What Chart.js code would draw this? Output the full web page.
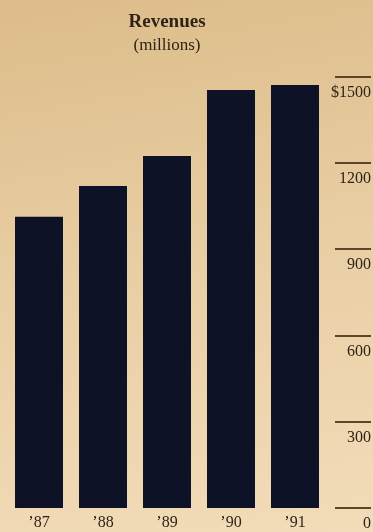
<!DOCTYPE html>
<html>
<head>
  <title>Revenues</title>
  <script src="https://cdn.jsdelivr.net/npm/chart.js"></script>
  <style>
    html, body {
      margin: 0;
      padding: 0;
    }
    body {
      width: 373px;
      height: 532px;
      background: linear-gradient(170deg, #dcbc89 0%, #e8cda2 45%, #f2dcb9 100%);
      overflow: hidden;
    }
    #wrap {
      position: relative;
      width: 373px;
      height: 532px;
    }
  </style>
</head>
<body>
  <div id="wrap">
    <canvas id="revChart"></canvas>
  </div>

  <script>
    // Dados
    const years = ['\u201987', '\u201988', '\u201989', '\u201990', '\u201991'];
    const revenues = [1014, 1121, 1225, 1455, 1472];
    const tickValues = [0, 300, 600, 900, 1200, 1500];
    const tickLabels = ['0', '300', '600', '900', '1200', '$1500'];

    const INK = '#2f2317';
    const RULE = '#5e4529';

    // Escala da direita: traço acima, número embaixo
    const rightTicks = {
      id: 'rightTicks',
      afterDraw(chart) {
        const y = chart.scales.y;
        const c = chart.ctx;
        c.save();
        c.strokeStyle = RULE;
        c.lineWidth = 2;
        c.fillStyle = INK;
        c.font = '16px "Liberation Serif", serif';
        c.textAlign = 'right';
        c.textBaseline = 'middle';
        tickValues.forEach((v, i) => {
          const py = Math.round(y.getPixelForValue(v));
          c.beginPath();
          c.moveTo(335, py);
          c.lineTo(371, py);
          c.stroke();
          c.fillText(tickLabels[i], 371, py + 16);
        });
        c.restore();
      }
    };

    new Chart(document.getElementById('revChart'), {
      type: 'bar',
      data: {
        labels: years,
        datasets: [{
          data: revenues,
          backgroundColor: '#0d1227',
          borderWidth: 0,
          barPercentage: 0.75,
          categoryPercentage: 1
        }]
      },
      options: {
        responsive: true,
        maintainAspectRatio: false,
        animation: false,
        layout: { padding: { left: 7, right: 46, top: 0, bottom: 0 } },
        plugins: {
          legend: { display: false },
          tooltip: { enabled: false },
          title: {
            display: true,
            fullSize: false,
            text: 'Revenues',
            color: INK,
            font: { family: '"Liberation Serif", serif', size: 19, weight: 'bold' },
            padding: { top: 11, bottom: 0 }
          },
          subtitle: {
            display: true,
            fullSize: false,
            text: '(millions)',
            color: INK,
            font: { family: '"Liberation Serif", serif', size: 17 },
            padding: { top: 2, bottom: 20.8 }
          }
        },
        scales: {
          x: {
            grid: { display: false, drawTicks: false },
            border: { display: false },
            ticks: {
              color: INK,
              font: { family: '"Liberation Serif", serif', size: 16 },
              padding: 5
            },
            afterFit(scale) { scale.height = 24; }
          },
          y: {
            display: false,
            min: 0,
            max: 1500
          }
        }
      },
      plugins: [rightTicks]
    });
  </script>
</body>
</html>
